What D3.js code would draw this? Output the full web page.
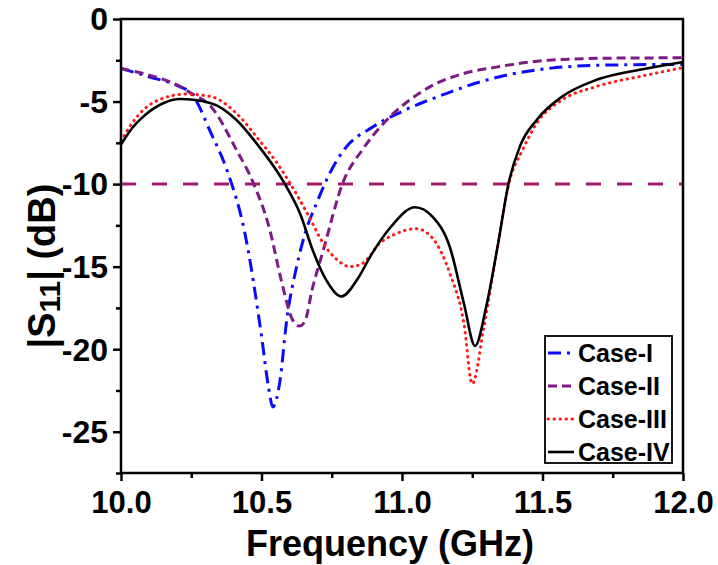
<!DOCTYPE html>
<html>
<head>
<meta charset="utf-8">
<script src="https://cdn.jsdelivr.net/npm/d3@7"></script>
<style>
  body { margin: 0; background: #fff; }
</style>
</head>
<body>
<svg id="chart" width="718" height="565"></svg>
<script>
// --- données ---
const freqI = [10.00, 10.10, 10.21, 10.25, 10.32, 10.38, 10.44, 10.50, 10.525, 10.54, 10.565, 10.59, 10.625, 10.655, 10.70, 10.73, 10.79, 10.90, 11.00, 11.16, 11.28, 11.40, 11.52, 11.70, 12.00];
const s11I  = [-3.0, -3.5, -4.1, -4.5, -6.9, -9.3, -12.9, -19.2, -22.3, -23.5, -22.0, -18.2, -15.0, -13.0, -11.0, -9.8, -8.0, -6.5, -5.6, -4.5, -3.8, -3.3, -3.0, -2.8, -2.75];

const freqII = [10.00, 10.10, 10.20, 10.25, 10.32, 10.41, 10.47, 10.53, 10.57, 10.61, 10.635, 10.655, 10.68, 10.72, 10.79, 10.86, 10.93, 11.02, 11.10, 11.22, 11.34, 11.52, 11.75, 12.00];
const s11II  = [-3.0, -3.4, -4.0, -4.5, -5.3, -7.9, -9.9, -12.8, -15.8, -18.2, -18.6, -18.3, -16.4, -14.0, -9.9, -7.9, -6.4, -5.0, -4.1, -3.3, -2.9, -2.5, -2.37, -2.35];

const freqIII = [10.00, 10.04, 10.08, 10.15, 10.23, 10.32, 10.41, 10.49, 10.55, 10.60, 10.67, 10.72, 10.77, 10.815, 10.86, 10.92, 10.98, 11.05, 11.11, 11.17, 11.22, 11.25, 11.29, 11.34, 11.38, 11.43, 11.48, 11.57, 11.69, 11.87, 12.00];
const s11III  = [-7.4, -6.3, -5.5, -4.8, -4.55, -4.7, -5.7, -7.3, -8.6, -9.9, -12.0, -13.6, -14.6, -15.0, -14.8, -13.6, -13.0, -12.7, -13.3, -15.4, -18.4, -22.1, -18.8, -13.8, -10.0, -7.9, -6.3, -4.9, -4.1, -3.4, -2.95];

const freqIV = [10.00, 10.04, 10.08, 10.15, 10.21, 10.32, 10.41, 10.49, 10.58, 10.64, 10.68, 10.73, 10.785, 10.84, 10.89, 10.96, 11.046, 11.11, 11.17, 11.22, 11.26, 11.30, 11.34, 11.38, 11.42, 11.48, 11.57, 11.69, 11.87, 12.00];
const s11IV  = [-7.6, -6.6, -5.9, -5.1, -4.85, -5.1, -6.1, -7.7, -9.9, -11.9, -13.9, -15.8, -16.8, -15.8, -14.3, -12.6, -11.4, -12.0, -13.8, -17.2, -19.8, -17.4, -13.8, -9.9, -7.7, -6.1, -4.7, -3.7, -3.0, -2.6];

const caseNames = ['Case-I', 'Case-II', 'Case-III', 'Case-IV'];
const xTicks = [10.0, 10.5, 11.0, 11.5, 12.0];
const yTicks = [0, -5, -10, -15, -20, -25];
const threshold = -10;

// --- mise en page ---
const W = 718, H = 565;
const margin = { top: 19, right: 35, bottom: 92, left: 121 };
const iw = W - margin.left - margin.right;
const ih = H - margin.top - margin.bottom;
const FONT = '"Liberation Sans", Arial, sans-serif';

const svg = d3.select('#chart')
    .attr('font-family', FONT)
    .attr('font-weight', 'bold');
const g = svg.append('g').attr('transform', `translate(${margin.left},${margin.top})`);

const x = d3.scaleLinear().domain([10, 12]).range([0, iw]);
const y = d3.scaleLinear().domain([-27.5, 0]).range([ih, 0]);

// styles des courbes
const styles = [
    { color: '#0a0aff', dash: '13,6,3,6', cap: 'butt', width: 3 },
    { color: '#7d1a85', dash: '9,5', cap: 'butt', width: 3 },
    { color: '#ff1a1a', dash: '0.5,5.5', cap: 'round', width: 3 },
    { color: '#000000', dash: null, cap: 'butt', width: 2.6 }
];

const series = [
    d3.zip(freqI, s11I),
    d3.zip(freqII, s11II),
    d3.zip(freqIII, s11III),
    d3.zip(freqIV, s11IV)
];

// ligne -10 dB
g.append('line')
    .attr('x1', x(10)).attr('x2', x(12))
    .attr('y1', y(threshold)).attr('y2', y(threshold))
    .attr('stroke', '#a3196b')
    .attr('stroke-width', 3)
    .attr('stroke-dasharray', '15,16');

const line = d3.line()
    .x(d => x(d[0]))
    .y(d => y(d[1]))
    .curve(d3.curveMonotoneX);

series.forEach((data, i) => {
    const s = styles[i];
    g.append('path')
        .datum(data)
        .attr('fill', 'none')
        .attr('stroke', s.color)
        .attr('stroke-width', s.width)
        .attr('stroke-linecap', s.cap)
        .attr('stroke-dasharray', s.dash)
        .attr('d', line);
});

// --- axes ---
const xAxis = d3.axisBottom(x).tickValues(xTicks).tickFormat(d3.format('.1f')).tickSize(8).tickPadding(10);
const xMinor = d3.axisBottom(x).tickValues(d3.range(10.25, 12, 0.5)).tickFormat('').tickSize(5);
const yAxis = d3.axisLeft(y).tickValues(yTicks).tickFormat(d => String(d)).tickSize(8).tickPadding(5);
const yMinor = d3.axisLeft(y).tickValues(d3.range(-2.5, -28, -5)).tickFormat('').tickSize(5);

const gx = g.append('g').attr('transform', `translate(0,${ih})`).call(xAxis);
g.append('g').attr('transform', `translate(0,${ih})`).call(xMinor);
const gy = g.append('g').call(yAxis);
g.append('g').call(yMinor);

g.selectAll('g').attr('font-family', null).attr('font-size', null);
g.selectAll('.domain').remove();
g.selectAll('.tick line').attr('stroke', '#000').attr('stroke-width', 2.5);
gx.selectAll('.tick text').attr('font-size', 31).attr('dy', '0.71em');
gy.selectAll('.tick text').attr('font-size', 32).attr('dy', '0.34em');

// cadre
g.append('rect')
    .attr('x', 0).attr('y', 0)
    .attr('width', iw).attr('height', ih)
    .attr('fill', 'none')
    .attr('stroke', '#000')
    .attr('stroke-width', 2.5);

// --- titres des axes ---
svg.append('text')
    .attr('x', margin.left + iw / 2 - 12)
    .attr('y', 556)
    .attr('text-anchor', 'middle')
    .attr('font-size', 36)
    .text('Frequency (GHz)');

const yt = svg.append('text')
    .attr('transform', `translate(55,${margin.top + ih / 2 + 20}) rotate(-90)`)
    .attr('text-anchor', 'middle')
    .attr('font-size', 38);
yt.append('tspan').text('|S');
yt.append('tspan').attr('font-size', 30).attr('dy', 5).text('11');
yt.append('tspan').attr('dy', -5).text('| (dB)');

// --- légende ---
const legend = svg.append('g').attr('transform', 'translate(545,336)');
legend.append('rect')
    .attr('width', 127).attr('height', 127)
    .attr('fill', '#fff')
    .attr('stroke', '#000')
    .attr('stroke-width', 1.8);

caseNames.forEach((name, i) => {
    const s = styles[i];
    const yy = 17 + i * 33;
    legend.append('line')
        .attr('x1', 3).attr('x2', 29)
        .attr('y1', yy).attr('y2', yy)
        .attr('stroke', s.color)
        .attr('stroke-width', s.width)
        .attr('stroke-linecap', s.cap)
        .attr('stroke-dasharray', s.dash);
    legend.append('text')
        .attr('x', 33)
        .attr('y', yy)
        .attr('dy', '0.35em')
        .attr('font-size', 25)
        .text(name);
});
</script>
</body>
</html>
